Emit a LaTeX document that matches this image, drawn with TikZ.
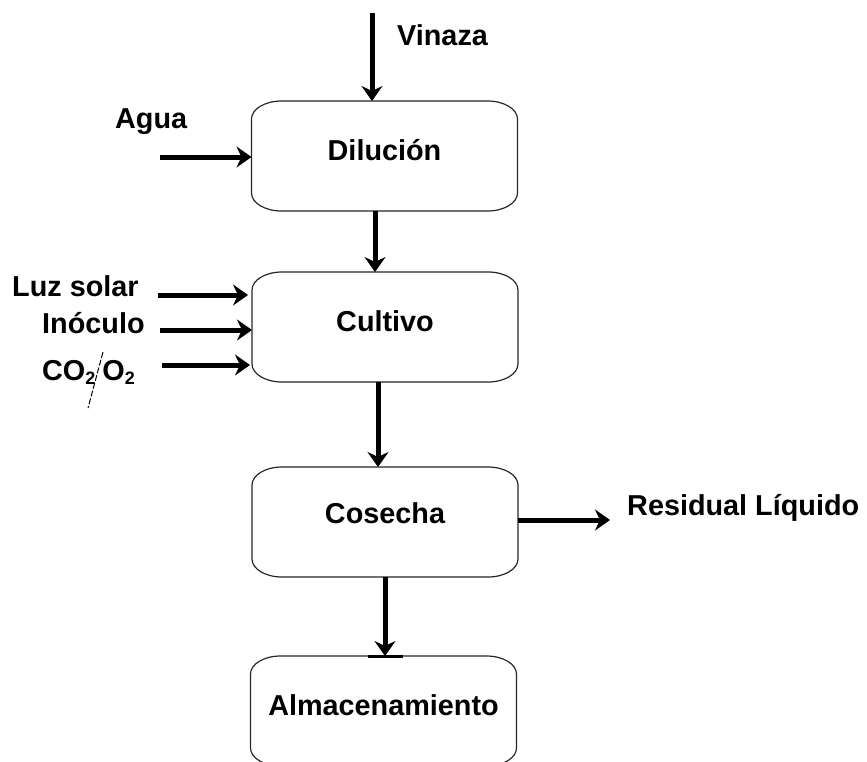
\documentclass[tikz,border=0pt]{standalone}
\usepackage{fontspec}
\setmainfont{Liberation Sans}
\usetikzlibrary{arrows.meta}

% subscript two for the gas formulas
\newcommand\subtwo{\raisebox{-4pt}{\fontsize{18}{18}\selectfont 2}}

% outline with elliptical corners around a named (undrawn) box node
\newcommand\softbox[1]{%
  \draw[boxline] ([xshift=30pt]#1.north west) -- ([xshift=-30pt]#1.north east)
    arc[start angle=90, end angle=0, x radius=30pt, y radius=18pt]
    -- ([yshift=18pt]#1.south east)
    arc[start angle=0, end angle=-90, x radius=30pt, y radius=18pt]
    -- ([xshift=30pt]#1.south west)
    arc[start angle=270, end angle=180, x radius=30pt, y radius=18pt]
    -- ([yshift=-18pt]#1.north west)
    arc[start angle=180, end angle=90, x radius=30pt, y radius=18pt] -- cycle;}

\begin{document}
\begin{tikzpicture}[x=1pt, y=-1pt,
  every node/.style={font=\fontsize{28.8}{32}\selectfont\bfseries, text=black},
  stage/.style={draw=none, inner sep=0pt, outer sep=0pt,
    minimum width=266pt, minimum height=110pt, text height=20pt, text depth=12pt},
  tag/.style={anchor=base west, inner sep=0pt},
  boxline/.style={draw=black!85, line width=1.2pt},
  flow/.style={draw=black, line width=5pt,
    -{Stealth[length=15pt, width=21pt, inset=5pt]}}]

\useasboundingbox (0,0) rectangle (867,761);

% process stages
\node[stage] (dil) at (384.5,156) {Diluci\'on};
\node[stage] (cul) at (385,327) {Cultivo};
\node[stage, text depth=18pt] (cos) at (385,522) {Cosecha};
\node[stage, text depth=12pt] (alm) at (383.5,711) {Almacenamiento};
\softbox{dil}
\softbox{cul}
\softbox{cos}
\softbox{alm}

% stream labels
\node[tag] (lvin) at (397,45) {Vinaza};
\node[tag] (lagua) at (115,128) {Agua};
\node[tag] (lluz) at (12,296) {Luz solar};
\node[tag] (linoc) at (42,333) {In\'oculo};
\node[tag] (lgas) at (42,380) {CO\subtwo\hspace{7pt}O\subtwo};
\node[tag] (lres) at (627,515) {Residual L\'iquido};

% free ends of the input and output streams
\coordinate (vin-in) at (372,13);
\coordinate (agua-in) at (160,157);
\coordinate (luz-in) at (158,295);
\coordinate (inoc-in) at (160,330);
\coordinate (gas-in) at (162,365);
\coordinate (res-out) at (610,520);

% streams
\draw[flow] (vin-in) -- (vin-in |- dil.north);
\draw[flow] (agua-in) -- (agua-in -| dil.west);
\draw[flow] ([xshift=-9.5pt]dil.south) -- ([xshift=-9.5pt]dil.south |- cul.north);
\draw[flow, shorten >=4pt] (luz-in) -- (luz-in -| cul.west);
\draw[flow] (inoc-in) -- (inoc-in -| cul.west);
\draw[flow, shorten >=2pt] (gas-in) -- (gas-in -| cul.west);
\draw[flow] ([xshift=-7pt]cul.south) -- ([xshift=-7pt]cul.south |- cos.north);
\draw[flow] (res-out -| cos.east) -- (res-out);
\draw[flow] (cos.south) -- (cos.south |- alm.north);
\draw[line width=3pt] ([xshift=-15.5pt]alm.north) -- ([xshift=19.5pt]alm.north);

% slash between the two gases
\draw[line width=1pt, dash pattern=on 6pt off 2pt] (103,352) -- (88,408);
\end{tikzpicture}
\end{document}
